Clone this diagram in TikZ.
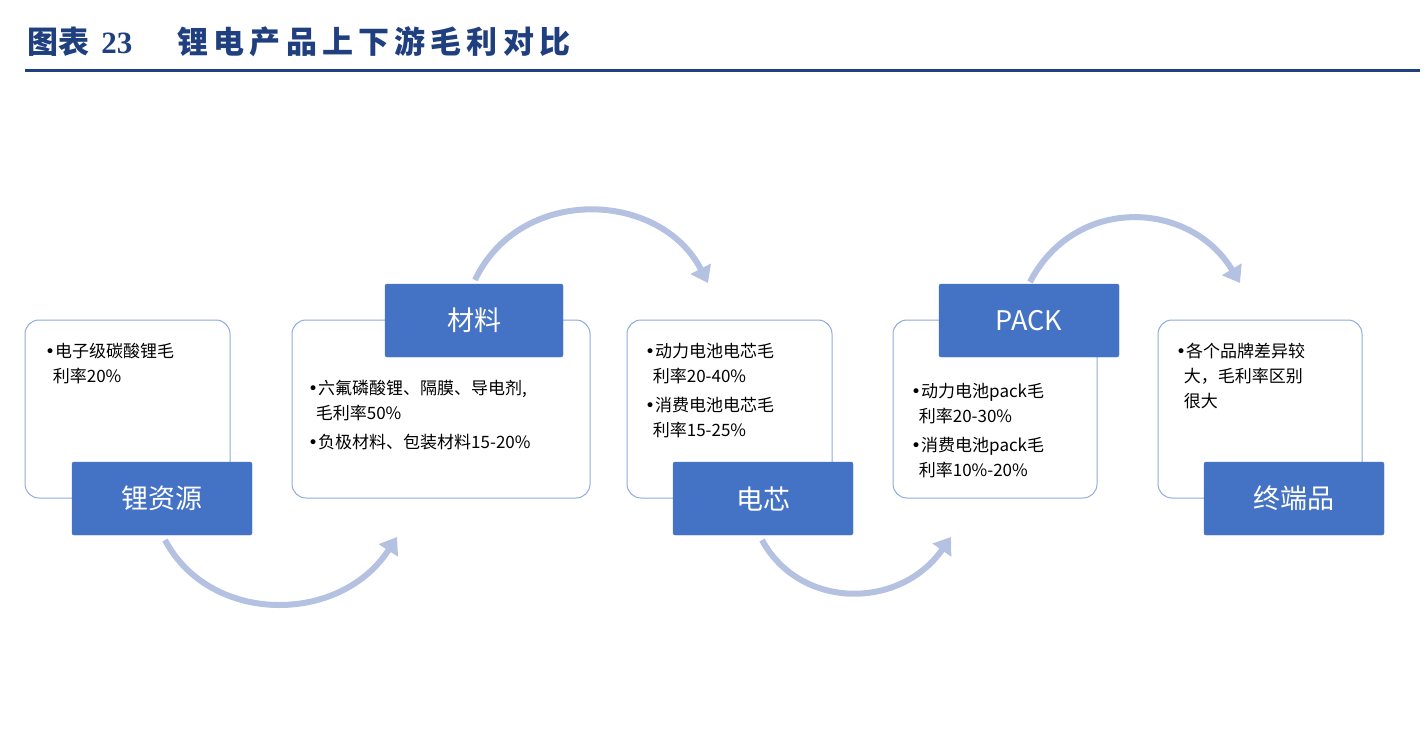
\documentclass[tikz,border=0pt]{standalone}
\usepackage{fontspec}
\setmainfont{Noto Sans CJK SC}
\newfontfamily\ser{Liberation Serif}
\newfontfamily\bul{DejaVu Sans}
\usetikzlibrary{arrows.meta}
\definecolor{tblue}{HTML}{1F3F7F}
\definecolor{lblue}{HTML}{4472C4}
\definecolor{bord}{HTML}{8FAADC}
\definecolor{arr}{HTML}{B4C1E1}
\newcommand{\bt}{{\bul •}}
\begin{document}
\begin{tikzpicture}[x=1pt,y=-1pt,
 box/.style={draw=bord,line width=1pt,rounded corners=14pt},
 lab/.style={fill=lblue,draw=lblue,rounded corners=2pt,text=white,font=\fontsize{27}{30}\selectfont,inner sep=0pt},
 txt/.style={anchor=north west,align=left,font=\fontsize{17}{25}\selectfont,inner sep=0pt,text=black},
 ar/.style={draw=arr,line width=6pt,-{Triangle[length=16pt,width=22pt]}}]
\useasboundingbox (0,0) rectangle (1424,742);
\node[anchor=west,text=tblue,font=\fontsize{31}{34}\selectfont\bfseries,inner sep=0pt] (title) at (27,42) {图表\, {\ser 23}\quad\ \ 锂\,电\,产\,品\,上\,下\,游\,毛\,利\,对\,比};
\draw[tblue,line width=3pt] (25,70) -- (1420,70);
\draw[box] (25,320) rectangle (230,498);
\draw[box] (292,320) rectangle (590,498);
\draw[box] (627,320) rectangle (832,498);
\draw[box] (893,320) rectangle (1097,498);
\draw[box] (1158,320) rectangle (1362,498);
\node[lab,minimum width=180pt,minimum height=73pt] (l1) at (162,498.5) {锂资源};
\node[lab,minimum width=178pt,minimum height=73pt] (l2) at (474,320.5) {材料};
\node[lab,minimum width=180pt,minimum height=73pt] (l3) at (763,498.5) {电芯};
\node[lab,minimum width=180pt,minimum height=73pt] (l4) at (1029,320.5) {PACK};
\node[lab,minimum width=180pt,minimum height=73pt] (l5) at (1294,498.5) {终端品};
\node[txt] (t1) at (45,343) {\bt 电子级碳酸锂毛\\\ \ 利率20\%};
\node[txt] (t2) at (308,380) {\bt 六氟磷酸锂、隔膜、导电剂,\\\ \ 毛利率50\%\\[4pt]\bt 负极材料、包装材料15-20\%};
\node[txt] (t3) at (645,343) {\bt 动力电池电芯毛\\\ \ 利率20-40\%\\[4pt]\bt 消费电池电芯毛\\\ \ 利率15-25\%};
\node[txt] (t4) at (911,383) {\bt 动力电池pack毛\\\ \ 利率20-30\%\\[4pt]\bt 消费电池pack毛\\\ \ 利率10\%-20\%};
\node[txt] (t5) at (1176,343) {\bt 各个品牌差异较\\\ \ 大，毛利率区别\\\ \ 很大};
\coordinate (a1s) at (165,540); \coordinate (a1e) at (397,537);
\coordinate (a2s) at (475,280); \coordinate (a2e) at (708,283);
\coordinate (a3s) at (762,540); \coordinate (a3e) at (951,537);
\coordinate (a4s) at (1030,282); \coordinate (a4e) at (1240,283);
\draw[ar] (a1s) .. controls (210,625) and (340,625) .. (a1e);
\draw[ar] (a2s) .. controls (520,185) and (660,190) .. (a2e);
\draw[ar] (a3s) .. controls (800,610) and (900,610) .. (a3e);
\draw[ar] (a4s) .. controls (1075,195) and (1190,200) .. (a4e);
\end{tikzpicture}
\end{document}
